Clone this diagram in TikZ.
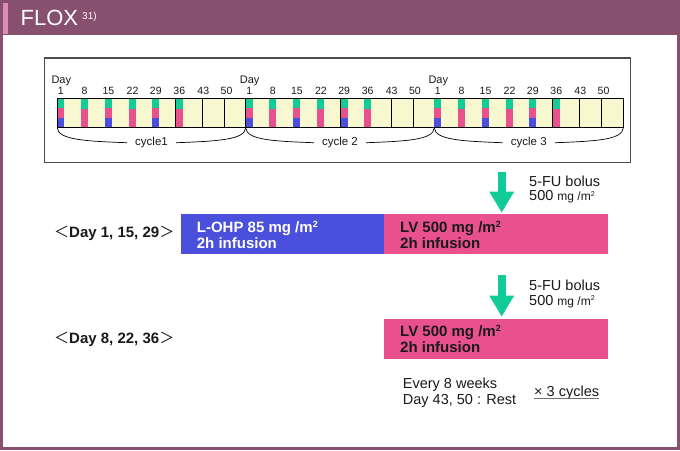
\documentclass[tikz,border=0pt]{standalone}
\usepackage{fontspec}
\setmainfont{Liberation Sans}
\newfontfamily\cjk{Noto Sans CJK JP}
\usetikzlibrary{arrows.meta}
\definecolor{framec}{HTML}{87506F}
\definecolor{stripec}{HTML}{DB8DB8}
\definecolor{cellbg}{HTML}{F8F8D0}
\definecolor{grn}{HTML}{12CC98}
\definecolor{pnk}{HTML}{E8508E}
\definecolor{blu}{HTML}{4A4FDC}
\definecolor{txt}{HTML}{1A1A1A}
\tikzset{
  lbl/.style={inner sep=0pt, text=txt},
  daynum/.style={lbl, anchor=base, font=\fontsize{10.5}{10.5}\selectfont},
  dayword/.style={lbl, anchor=base, font=\fontsize{11}{11}\selectfont},
  cyclbl/.style={anchor=base, inner ysep=0pt, inner xsep=8pt, text=txt, font=\fontsize{11.5}{11.5}\selectfont},
  rowlbl/.style={lbl, anchor=base west, font=\fontsize{15}{15}\selectfont\bfseries},
  bartxt/.style={lbl, anchor=base west, font=\fontsize{15}{15}\selectfont\bfseries},
  regtxt/.style={lbl, anchor=base west, font=\fontsize{14.5}{14.5}\selectfont},
  brace/.style={draw=black, line width=0.7pt},
  fuarrow/.style={draw=grn, line width=8.3pt, -{Triangle[width=23.3pt,length=21pt]}},
}
\newcommand{\mgm}{{\fontsize{12}{12}\selectfont mg /m}\raisebox{4.5pt}{\fontsize{7}{7}\selectfont 2}}
\begin{document}
\begin{tikzpicture}[x=1pt,y=-1pt]
\useasboundingbox (0,0) rectangle (680,450);
% frame and header
\fill[framec] (0,0) rectangle (680,450);
\fill[white] (3,35) rectangle (677,447);
\fill[stripec] (3,3) rectangle (8,34);
\node[anchor=base west, inner sep=0pt, text=white, font=\fontsize{22}{22}\selectfont] (title) at (20.5,25.7) {FLOX};
\node[anchor=base west, inner sep=0pt, text=white, font=\fontsize{10}{10}\selectfont] (titleref) at (82,19.2) {31)};
% timeline box
\draw[line width=1.5pt, draw=black!70] (44.5,58) rectangle (630.5,162.5);
% strip
\fill[cellbg] (57.3,98.3) rectangle (623.3,127.7);
\foreach \xs in {57.3,245.7,434.3}{
  \foreach \o in {0,23.7,47.7,71.7,95,118.5,145.5,167.2}{
    \draw[line width=0.8pt] (\xs+\o,98.3) -- (\xs+\o,127.7);
  }
  \foreach \o in {0,47.7,95}{
    \fill[grn] (\xs+\o,98.3) rectangle (\xs+\o+7,108.3);
    \fill[pnk] (\xs+\o,108.3) rectangle (\xs+\o+7,118);
    \fill[blu] (\xs+\o,118) rectangle (\xs+\o+7,127.7);
  }
  \foreach \o in {23.7,71.7,118.5}{
    \fill[grn] (\xs+\o,98.3) rectangle (\xs+\o+7,108.8);
    \fill[pnk] (\xs+\o,108.8) rectangle (\xs+\o+7,127.7);
  }
}
\draw[line width=0.8pt] (57.3,98.3) rectangle (623.3,127.7);
% day labels
\foreach \c/\xs in {1/57.3,2/245.7,3/434.3}{
  \node[dayword] (day\c) at (\xs+4,83.3) {Day};
  \foreach \o/\d in {3.5/1,27.2/8,51.2/15,75.2/22,98.5/29,122/36,146/43,169.2/50}{
    \node[daynum] (d\c-\d) at (\xs+\o,94.5) {\d};
  }
}
% cycle braces
\coordinate (b0) at (57.3,128);
\coordinate (b1) at (245.7,128);
\coordinate (b2) at (434.3,128);
\coordinate (b3) at (623.3,128);
\node[cyclbl] (cyc1) at (151.5,145.7) {cycle1};
\node[cyclbl] (cyc2) at (340,145.7) {cycle 2};
\node[cyclbl] (cyc3) at (528.8,145.7) {cycle 3};
\draw[brace] (b0) .. controls +(1,12) and +(-40,-1.5) .. (cyc1.west);
\draw[brace] (cyc1.east) .. controls +(40,-1.5) and +(-1,12) .. (b1);
\draw[brace] (b1) .. controls +(1,12) and +(-40,-1.5) .. (cyc2.west);
\draw[brace] (cyc2.east) .. controls +(40,-1.5) and +(-1,12) .. (b2);
\draw[brace] (b2) .. controls +(1,12) and +(-40,-1.5) .. (cyc3.west);
\draw[brace] (cyc3.east) .. controls +(40,-1.5) and +(-1,12) .. (b3);
% row 1
\node[rowlbl] (row1) at (54,237.3) {{\cjk\mdseries ＜}Day 1, 15, 29{\cjk\mdseries ＞}};
\fill[blu] (180.7,214.3) rectangle (384,254.3);
\fill[pnk] (384,214.3) rectangle (608.3,254.3);
\coordinate (lv1top) at (501.7,214.3);
\node[bartxt, text=white] (oxa) at (196.7,232.7) {L-OHP 85 mg /m\raisebox{5pt}{\fontsize{9}{9}\selectfont 2}};
\node[bartxt, text=white] (oxb) at (196.7,248.3) {2h infusion};
\node[bartxt] (lv1a) at (400,232.7) {LV 500 mg /m\raisebox{5pt}{\fontsize{9}{9}\selectfont 2}};
\node[bartxt] (lv1b) at (400,248.3) {2h infusion};
\coordinate (a1) at (501.7,171.7);
\draw[fuarrow] (a1) -- ([yshift=1.6pt]lv1top);
\node[regtxt] (fu1a) at (529,186) {5-FU bolus};
\node[regtxt] (fu1b) at (529,200.5) {500 \mgm};
% row 2
\node[rowlbl] (row2) at (54,343.3) {{\cjk\mdseries ＜}Day 8, 22, 36{\cjk\mdseries ＞}};
\fill[pnk] (384,319) rectangle (608.3,358.7);
\coordinate (lv2top) at (501.7,319);
\node[bartxt] (lv2a) at (400,336.3) {LV 500 mg /m\raisebox{5pt}{\fontsize{9}{9}\selectfont 2}};
\node[bartxt] (lv2b) at (400,352) {2h infusion};
\coordinate (a2) at (501.7,275);
\draw[fuarrow] (a2) -- ([yshift=2.3pt]lv2top);
\node[regtxt] (fu2a) at (529,290) {5-FU bolus};
\node[regtxt] (fu2b) at (529,305) {500 \mgm};
% footer
\node[regtxt] (every) at (402.7,388.3) {Every 8 weeks};
\node[regtxt] (rest) at (402.7,404) {Day 43, 50 : Rest};
\node[regtxt] (times) at (534,396) {× 3 cycles};
\draw[line width=1.3pt, draw=black!55] ([yshift=-2.3pt]times.base west) -- ([yshift=-2.3pt]times.base east);
\end{tikzpicture}
\end{document}
